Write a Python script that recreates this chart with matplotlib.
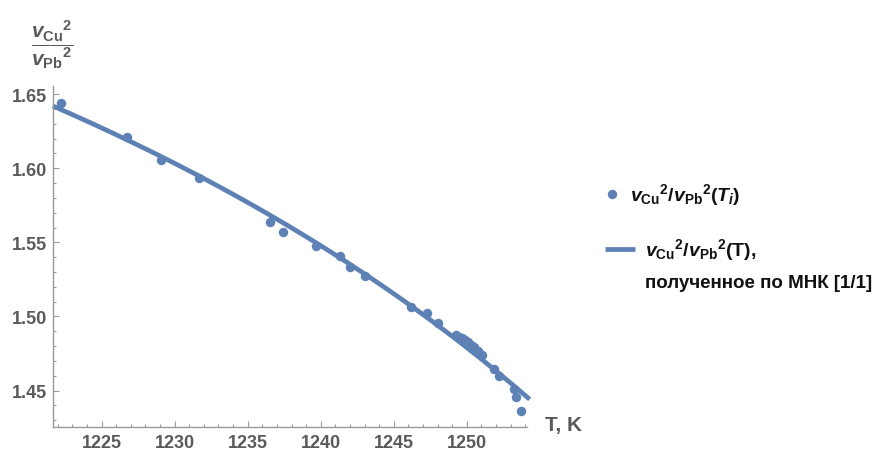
import numpy as np
import matplotlib
matplotlib.use("Agg")
import matplotlib.pyplot as plt
from matplotlib.lines import Line2D
from matplotlib.ticker import MultipleLocator

plt.rcParams["font.family"] = ["Liberation Sans", "DejaVu Sans"]
plt.rcParams["mathtext.fontset"] = "custom"
plt.rcParams["mathtext.rm"] = "Liberation Sans:bold"
plt.rcParams["mathtext.bf"] = "Liberation Sans:bold"
plt.rcParams["mathtext.sf"] = "Liberation Sans:bold"
plt.rcParams["mathtext.it"] = "Liberation Sans:italic:bold"

# Measured temperatures (K) and squared sound-velocity ratio v_Cu^2 / v_Pb^2
T_i = [1222.2, 1226.71, 1229.04, 1231.66, 1236.56, 1237.42, 1239.66, 1241.35,
       1242.03, 1243.06, 1246.20, 1247.30, 1248.02, 1249.23, 1249.44, 1249.64,
       1249.85, 1250.05, 1250.26, 1250.46, 1250.74, 1251.01, 1251.85, 1252.2,
       1253.2, 1253.39, 1253.73]
ratio = [1.6439, 1.6208, 1.6057, 1.5936, 1.5635, 1.5568, 1.5473, 1.5406,
         1.5336, 1.5275, 1.5066, 1.5022, 1.4954, 1.4876, 1.4862, 1.4852,
         1.4842, 1.4825, 1.4808, 1.4791, 1.4768, 1.4741, 1.4646, 1.4601,
         1.4512, 1.4456, 1.4365]

x_ticks = [1225, 1230, 1235, 1240, 1245, 1250]
y_ticks = [1.45, 1.50, 1.55, 1.60, 1.65]

COLOR = "#5E81B5"
GRAY_TXT = "#5a5a5a"
GRAY_AX = "#9a9a9a"

W, H = 880, 452
fig = plt.figure(figsize=(W / 100, H / 100), dpi=100)
ax = fig.add_axes([52.7 / W, (H - 428) / H, (526.7 - 52.7) / W, (428 - 87) / H])

# Least-squares fit of a [1/1] Pade approximant: y = (a + b t) / (1 + c t), t = T - T0
T0 = 1240.0
Ta = np.asarray(T_i)
ya = np.asarray(ratio)
t = Ta - T0
A = np.column_stack([np.ones_like(t), t, -t * ya])
a, b, c = np.linalg.lstsq(A, ya, rcond=None)[0]

xmin, xmax = 1221.65, 1254.1
Tf = np.linspace(xmin, xmax + 0.2, 400)
yf = (a + b * (Tf - T0)) / (1 + c * (Tf - T0))

ax.plot(Tf, yf, color=COLOR, lw=3.4, solid_capstyle="butt", clip_on=False, zorder=2)
ax.plot(T_i, ratio, "o", color=COLOR, ms=6.8, mec="none", clip_on=False, zorder=3)

ax.set_xlim(xmin, xmax)
ax.set_ylim(1.4255, 1.6554)

for s in ("top", "right"):
    ax.spines[s].set_visible(False)
for s in ("left", "bottom"):
    ax.spines[s].set_color(GRAY_AX)
    ax.spines[s].set_linewidth(1.0)

ax.set_xticks(x_ticks)
ax.set_yticks(y_ticks)
ax.set_yticklabels([f"{v:.2f}" for v in y_ticks])
ax.xaxis.set_minor_locator(MultipleLocator(1))
ax.yaxis.set_minor_locator(MultipleLocator(0.01))
ax.tick_params(which="both", direction="in", color=GRAY_AX, width=0.8)
ax.tick_params(which="major", length=4)
ax.tick_params(which="minor", length=2.3)
ax.tick_params(axis="x", which="major", pad=5, labelsize=13, labelcolor=GRAY_TXT)
ax.tick_params(axis="y", which="major", pad=4, labelsize=13, labelcolor=GRAY_TXT)
for lab in ax.get_xticklabels() + ax.get_yticklabels():
    lab.set_fontweight("bold")

def px(x, y):
    return x / W, 1 - y / H

# Axis labels
fig.text(*px(545, 426), "T, K", fontsize=15, fontweight="bold", color=GRAY_TXT,
         ha="left", va="center")
fig.text(*px(52, 45), r"$\dfrac{{v_{\mathrm{Cu}}}^{2}}{{v_{\mathrm{Pb}}}^{2}}$",
         fontsize=15, color=GRAY_TXT, ha="center", va="center")

# Legend
fig.add_artist(Line2D([611.7 / W], [1 - 195 / H], marker="o", ms=6.8, color=COLOR,
                      mec="none", transform=fig.transFigure))
fig.add_artist(Line2D([605 / W, 635 / W], [1 - 250 / H, 1 - 250 / H], lw=3.4,
                      color=COLOR, solid_capstyle="butt", transform=fig.transFigure))
fig.text(*px(630, 195), r"${v_{\mathrm{Cu}}}^{2}/{v_{\mathrm{Pb}}}^{2}(T_{i})$",
         fontsize=14, color="#111111", ha="left", va="center")
fig.text(*px(645, 250), r"${v_{\mathrm{Cu}}}^{2}/{v_{\mathrm{Pb}}}^{2}(\mathrm{T})$,",
         fontsize=14, fontweight="bold", color="#111111", ha="left", va="center")
fig.text(*px(645, 284), "полученное по МНК [1/1]",
         fontsize=13.5, fontweight="bold", color="#111111", ha="left", va="center")

fig.savefig("out.png", dpi=100)
